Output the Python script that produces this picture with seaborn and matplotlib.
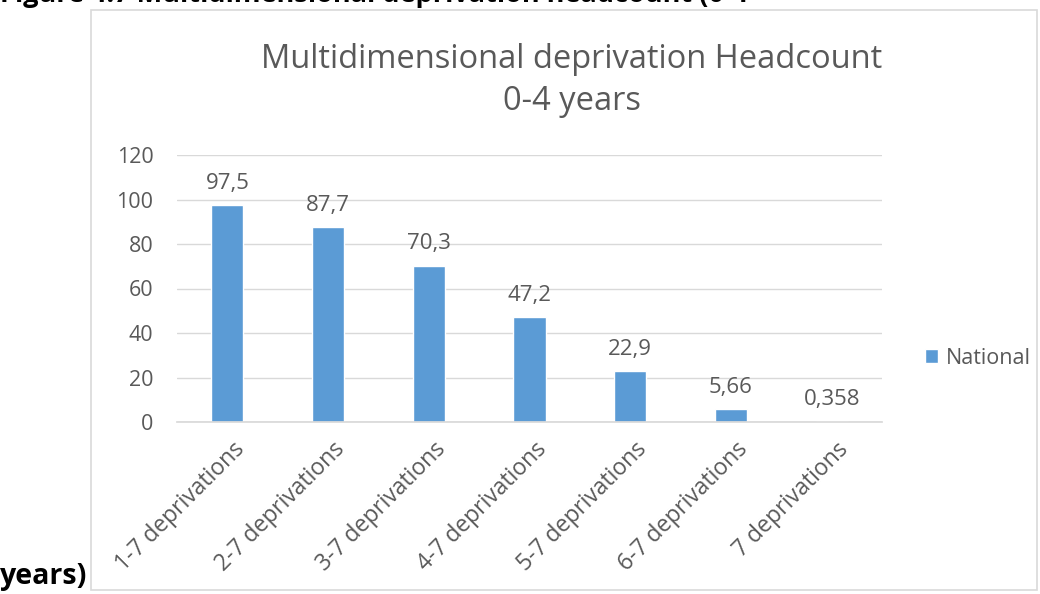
import matplotlib
matplotlib.use("Agg")
import matplotlib.pyplot as plt
import matplotlib.patches as mpatches
import matplotlib.transforms as mtransforms
import seaborn as sns
import pandas as pd

categories = ["1-7 deprivations", "2-7 deprivations", "3-7 deprivations",
              "4-7 deprivations", "5-7 deprivations", "6-7 deprivations",
              "7 deprivations"]
national = [97.5, 87.7, 70.3, 47.2, 22.9, 5.66, 0.358]
value_labels = ["97,5", "87,7", "70,3", "47,2", "22,9", "5,66", "0,358"]
y_ticks = [0, 20, 40, 60, 80, 100, 120]
series_name = "National"

sns.set_theme(style="white")
plt.rcParams["font.family"] = ["Open Sans", "DejaVu Sans"]

TEXT = "#595959"
BAR = "#5B9BD5"
GRID = "#D9D9D9"

df = pd.DataFrame({"category": categories, "value": national,
                   "series": [series_name] * len(categories)})

W, H = 1040, 594
fig = plt.figure(figsize=(W / 100, H / 100), dpi=100)
fig.patch.set_facecolor("white")

# chart frame
fig.patches.append(mpatches.Rectangle((91 / W, 1 - 590 / H), (1037 - 91) / W, (590 - 10) / H,
                                      transform=fig.transFigure, fill=False,
                                      edgecolor=GRID, linewidth=1.2))

ax = fig.add_axes([177 / W, 1 - 422 / H, (882 - 177) / W, (422 - 155) / H])
sns.barplot(data=df, x="category", y="value", hue="series", palette=[BAR],
            width=0.32, dodge=False, ax=ax, saturation=1)

ax.set_ylim(0, 120)
ax.set_xlim(-0.5, len(categories) - 0.5)
ax.set_yticks(y_ticks)
ax.set_yticklabels([str(t) for t in y_ticks])
ax.yaxis.grid(True, color=GRID, linewidth=1)
ax.set_axisbelow(True)
for side in ["top", "right", "left"]:
    ax.spines[side].set_visible(False)
ax.spines["bottom"].set_color(GRID)
ax.tick_params(axis="y", length=0, pad=17, labelsize=15.5, labelcolor=TEXT)
ax.tick_params(axis="x", length=0, pad=11, labelsize=16.5, labelcolor=TEXT)
ax.set_xlabel("")
ax.set_ylabel("")

ax.bar_label(ax.containers[0], labels=value_labels, padding=8,
             fontsize=16, color=TEXT)

offset = mtransforms.ScaledTranslation(5 / 100, 0, fig.dpi_scale_trans)
for lbl in ax.get_xticklabels():
    lbl.set_rotation(45)
    lbl.set_ha("right")
    lbl.set_va("top")
    lbl.set_rotation_mode("anchor")
    lbl.set_transform(lbl.get_transform() + offset)

leg = ax.legend(loc="center left", bbox_to_anchor=(925 / W, 1 - 358 / H),
                bbox_transform=fig.transFigure, frameon=False, borderpad=0,
                borderaxespad=0, fontsize=15.5, handlelength=0.6, handleheight=0.6,
                handletextpad=0.35, labelcolor=TEXT)

fig.text(572 / W, 1 - 59 / H, "Multidimensional deprivation Headcount",
         ha="center", va="center", fontsize=23.5, color=TEXT)
fig.text(572 / W, 1 - 102 / H, "0-4 years",
         ha="center", va="center", fontsize=23.5, color=TEXT)

# caption around the figure
fig.text(0.0, 1 - 2 / H, "Figure 4.7 Multidimensional deprivation headcount (0-4",
         ha="left", va="baseline", fontsize=19.5, fontweight="bold", color="black")
fig.text(0.0, 1 - 584 / H, "years)", ha="left", va="baseline",
         fontsize=20.5, fontweight="bold", color="black")

fig.savefig("out.png", dpi=100, facecolor="white")
